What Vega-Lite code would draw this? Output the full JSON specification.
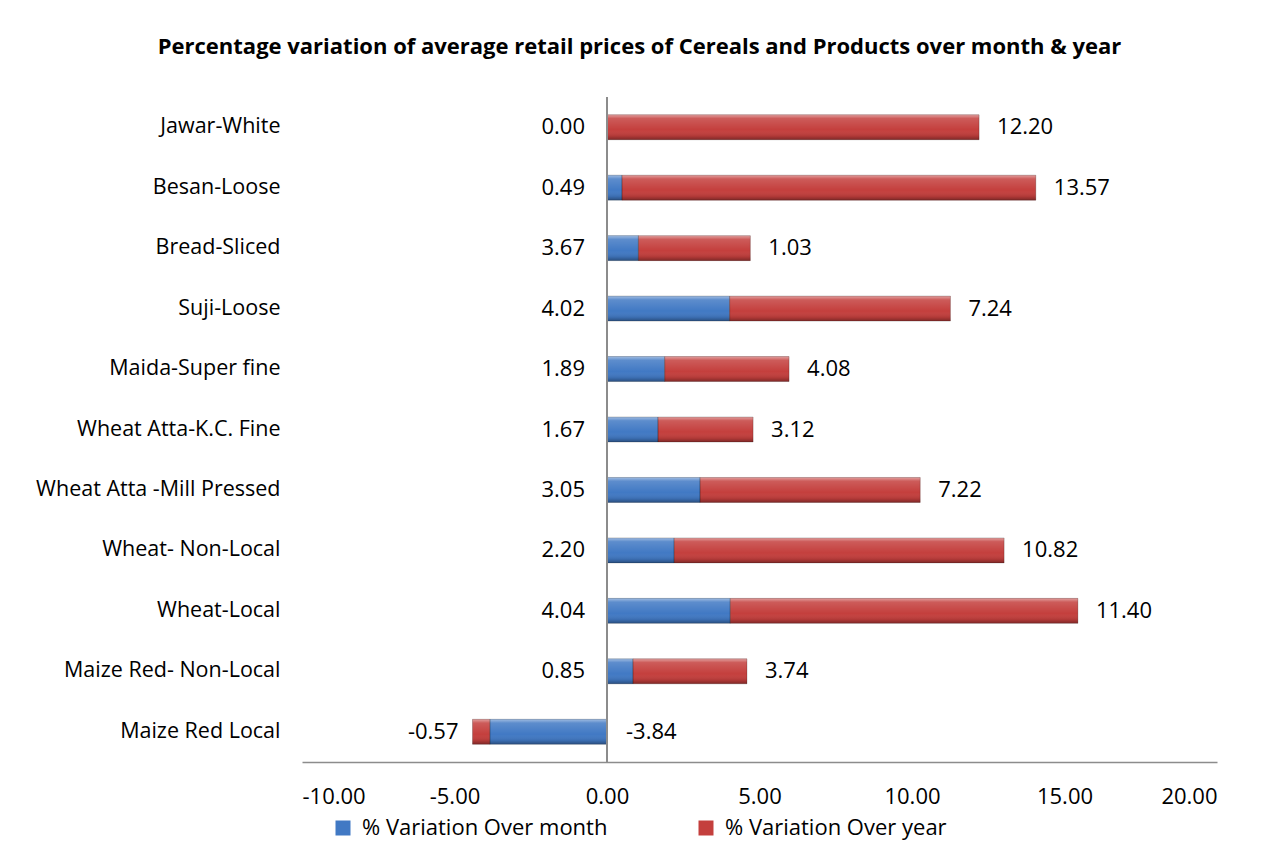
{
  "$schema": "https://vega.github.io/schema/vega-lite/v6.json",
  "width": 915,
  "height": 665,
  "autosize": {"type": "none"},
  "padding": {"left": 302, "top": 97, "right": 54, "bottom": 84},
  "background": "white",
  "config": {"view": {"stroke": null}, "font": "Open Sans"},
  "title": {
    "text": "Percentage variation of average retail prices of Cereals and Products over month & year",
    "fontSize": 22,
    "fontWeight": "bold",
    "font": "Open Sans",
    "color": "black",
    "anchor": "middle",
    "dx": -120,
    "offset": 37
  },
  "data": {
    "values": [
      {"item": "Jawar-White", "series": "% Variation Over month", "value": 0.00, "label": "0.00"},
      {"item": "Jawar-White", "series": "% Variation Over year", "value": 12.20, "label": "12.20"},
      {"item": "Besan-Loose", "series": "% Variation Over month", "value": 0.49, "label": "0.49"},
      {"item": "Besan-Loose", "series": "% Variation Over year", "value": 13.57, "label": "13.57"},
      {"item": "Bread-Sliced", "series": "% Variation Over month", "value": 1.03, "label": "3.67"},
      {"item": "Bread-Sliced", "series": "% Variation Over year", "value": 3.67, "label": "1.03"},
      {"item": "Suji-Loose", "series": "% Variation Over month", "value": 4.02, "label": "4.02"},
      {"item": "Suji-Loose", "series": "% Variation Over year", "value": 7.24, "label": "7.24"},
      {"item": "Maida-Super fine", "series": "% Variation Over month", "value": 1.89, "label": "1.89"},
      {"item": "Maida-Super fine", "series": "% Variation Over year", "value": 4.08, "label": "4.08"},
      {"item": "Wheat Atta-K.C. Fine", "series": "% Variation Over month", "value": 1.67, "label": "1.67"},
      {"item": "Wheat Atta-K.C. Fine", "series": "% Variation Over year", "value": 3.12, "label": "3.12"},
      {"item": "Wheat Atta -Mill Pressed", "series": "% Variation Over month", "value": 3.05, "label": "3.05"},
      {"item": "Wheat Atta -Mill Pressed", "series": "% Variation Over year", "value": 7.22, "label": "7.22"},
      {"item": "Wheat- Non-Local", "series": "% Variation Over month", "value": 2.20, "label": "2.20"},
      {"item": "Wheat- Non-Local", "series": "% Variation Over year", "value": 10.82, "label": "10.82"},
      {"item": "Wheat-Local", "series": "% Variation Over month", "value": 4.04, "label": "4.04"},
      {"item": "Wheat-Local", "series": "% Variation Over year", "value": 11.40, "label": "11.40"},
      {"item": "Maize Red- Non-Local", "series": "% Variation Over month", "value": 0.85, "label": "0.85"},
      {"item": "Maize Red- Non-Local", "series": "% Variation Over year", "value": 3.74, "label": "3.74"},
      {"item": "Maize Red Local", "series": "% Variation Over month", "value": -3.84, "label": "-3.84"},
      {"item": "Maize Red Local", "series": "% Variation Over year", "value": -0.57, "label": "-0.57"}
    ]
  },
  "transform": [
    {"stack": "value", "groupby": ["item"], "sort": [{"field": "series", "order": "ascending"}], "as": ["v0", "v1"]}
  ],
  "encoding": {
    "y": {
      "field": "item",
      "type": "nominal",
      "title": null,
      "sort": ["Jawar-White", "Besan-Loose", "Bread-Sliced", "Suji-Loose", "Maida-Super fine", "Wheat Atta-K.C. Fine", "Wheat Atta -Mill Pressed", "Wheat- Non-Local", "Wheat-Local", "Maize Red- Non-Local", "Maize Red Local"],
      "scale": {"paddingInner": 0, "paddingOuter": 0},
      "axis": {"domain": false, "ticks": false, "labelPadding": 22, "labelFontSize": 21.5, "labelColor": "black", "labelFont": "Open Sans", "labelLimit": 0}
    }
  },
  "layer": [
    {
      "mark": {"type": "bar", "size": 25},
      "encoding": {
        "x": {
          "field": "v0",
          "type": "quantitative",
          "title": null,
          "scale": {"domain": [-10, 20], "nice": false, "zero": false},
          "axis": {"values": [-10, -5, 0, 5, 10, 15, 20], "format": ".2f", "labelExpr": "replace(datum.label, '\u2212', '-')", "grid": false, "ticks": false, "domainColor": "#8c8c8c", "domainWidth": 1.5, "labelFontSize": 22, "labelColor": "black", "labelFont": "Open Sans", "labelPadding": 24}
        },
        "x2": {"field": "v1"},
        "color": {
          "field": "series",
          "type": "nominal",
          "scale": {"domain": ["% Variation Over month", "% Variation Over year"], "range": ["#4179C4", "#C43F3D"]},
          "legend": {
            "title": null,
            "orient": "none",
            "legendX": 30,
            "legendY": 720,
            "direction": "horizontal",
            "symbolType": "square",
            "symbolSize": 225,
            "symbolStrokeWidth": 0,
            "labelFontSize": 22,
            "labelFont": "Open Sans",
            "labelColor": "black",
            "labelLimit": 0,
            "columnPadding": 87,
            "labelOffset": 8
          }
        }
      }
    },
    {
      "mark": {
        "type": "bar",
        "size": 25,
        "stroke": "rgba(0,0,0,0.25)",
        "strokeWidth": 0.8,
        "fill": {
          "gradient": "linear",
          "x1": 0, "y1": 0, "x2": 0, "y2": 1,
          "stops": [
            {"offset": 0, "color": "rgba(255,255,255,0.5)"},
            {"offset": 0.15, "color": "rgba(255,255,255,0.15)"},
            {"offset": 0.6, "color": "rgba(255,255,255,0)"},
            {"offset": 0.85, "color": "rgba(0,0,0,0.1)"},
            {"offset": 1, "color": "rgba(0,0,0,0.35)"}
          ]
        }
      },
      "encoding": {
        "x": {"field": "v0", "type": "quantitative"},
        "x2": {"field": "v1"}
      }
    },
    {
      "mark": {"type": "rule", "color": "#8c8c8c", "strokeWidth": 1.5},
      "encoding": {"x": {"datum": 0}, "y": null}
    },
    {
      "transform": [{"filter": "datum.series === '% Variation Over month' && datum.value >= 0"}],
      "mark": {"type": "text", "align": "right", "dx": -22, "fontSize": 22, "font": "Open Sans", "color": "black"},
      "encoding": {"x": {"datum": 0}, "text": {"field": "label"}}
    },
    {
      "transform": [{"filter": "datum.series === '% Variation Over month' && datum.value < 0"}],
      "mark": {"type": "text", "align": "left", "dx": 19, "fontSize": 22, "font": "Open Sans", "color": "black"},
      "encoding": {"x": {"datum": 0}, "text": {"field": "label"}}
    },
    {
      "transform": [{"filter": "datum.series === '% Variation Over year' && datum.value >= 0"}],
      "mark": {"type": "text", "align": "left", "dx": 18, "fontSize": 22, "font": "Open Sans", "color": "black"},
      "encoding": {"x": {"field": "v1", "type": "quantitative"}, "text": {"field": "label"}}
    },
    {
      "transform": [{"filter": "datum.series === '% Variation Over year' && datum.value < 0"}],
      "mark": {"type": "text", "align": "right", "dx": -14, "fontSize": 22, "font": "Open Sans", "color": "black"},
      "encoding": {"x": {"field": "v1", "type": "quantitative"}, "text": {"field": "label"}}
    }
  ]
}
